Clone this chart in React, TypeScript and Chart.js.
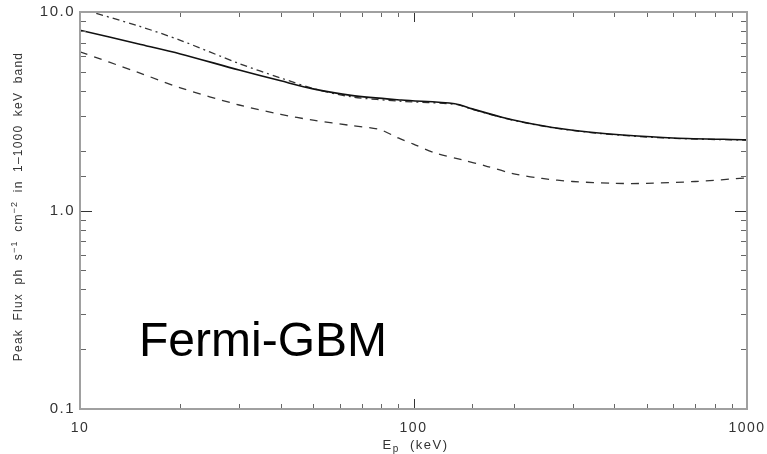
import React, { useEffect, useRef } from "react";
import { Chart, registerables } from "chart.js";

Chart.register(...registerables);

// Peak energy (keV) and peak flux (ph s^-1 cm^-2) for each curve
const solidEnergy = [10, 15, 20, 30, 40, 50, 65, 92, 133, 150, 184, 211, 261, 340, 424, 600, 1000];
const solidFlux = [8.1, 6.9, 6.15, 5.1, 4.5, 4.1, 3.8, 3.6, 3.45, 3.25, 2.95, 2.8, 2.62, 2.48, 2.4, 2.32, 2.27];

const dashDotEnergy = [10, 15, 20, 30, 40, 50, 65, 92, 133, 150, 184, 211, 261, 340, 424, 600, 1000];
const dashDotFlux = [10.4, 8.5, 7.2, 5.5, 4.65, 4.12, 3.74, 3.55, 3.43, 3.24, 2.94, 2.79, 2.61, 2.47, 2.39, 2.31, 2.26];

const dashedEnergy = [10, 15, 20, 30, 40, 50, 65, 79, 90, 100, 116, 140, 164, 200, 243, 300, 400, 500, 700, 1000];
const dashedFlux = [6.3, 4.95, 4.15, 3.4, 3.05, 2.85, 2.68, 2.56, 2.32, 2.16, 1.95, 1.8, 1.68, 1.53, 1.45, 1.4, 1.37, 1.37, 1.4, 1.46];

const xTickLabels = ["10", "100", "1000"];
const yTickLabels = ["0.1", "1.0", "10.0"];

const annotationText = "Fermi-GBM";
const xTitleMain = "E";
const xTitleSub = "p";
const xTitleRest = "  (keV)";
const yTitleParts: [string, boolean][] = [
  ["Peak Flux ph s", false],
  ["\u22121", true],
  [" cm", false],
  ["\u22122", true],
  [" in 1\u20131000 keV band", false],
];

const FONT = "'Liberation Sans', Arial, Helvetica, sans-serif";

const toPoints = (xs: number[], ys: number[]) => xs.map((x, i) => ({ x, y: ys[i] }));

const isPow10 = (v: number) => Math.abs(Math.log10(v) - Math.round(Math.log10(v))) < 1e-6;

const spacingPlugin = {
  id: "spacing",
  beforeDraw(chart: any) {
    chart.ctx.letterSpacing = "1.5px";
  },
};

const framePlugin = {
  id: "frame",
  afterDraw(chart: any) {
    const { ctx, chartArea: a, scales } = chart;
    const xs = scales.x;
    const ys = scales.y;
    ctx.save();
    ctx.letterSpacing = "0px";
    // inward tick marks on all four sides
    ctx.lineWidth = 1;
    xs.ticks.forEach((t: any) => {
      const px = Math.round(xs.getPixelForValue(t.value)) + 0.5;
      if (px < a.left - 1 || px > a.right + 1) return;
      const major = isPow10(t.value);
      const len = major ? 10 : 5;
      ctx.strokeStyle = major ? "#333" : "#666";
      ctx.beginPath();
      ctx.moveTo(px, a.bottom);
      ctx.lineTo(px, a.bottom - len);
      ctx.moveTo(px, a.top);
      ctx.lineTo(px, a.top + len);
      ctx.stroke();
    });
    ys.ticks.forEach((t: any) => {
      const py = Math.round(ys.getPixelForValue(t.value)) + 0.5;
      if (py < a.top - 1 || py > a.bottom + 1) return;
      const major = isPow10(t.value);
      const len = major ? 12 : 6;
      ctx.strokeStyle = major ? "#333" : "#666";
      ctx.beginPath();
      ctx.moveTo(a.left, py);
      ctx.lineTo(a.left + len, py);
      ctx.moveTo(a.right, py);
      ctx.lineTo(a.right - len, py);
      ctx.stroke();
    });
    // frame
    ctx.strokeStyle = "#a0a0a0";
    ctx.lineWidth = 2;
    ctx.strokeRect(a.left, a.top, a.right - a.left, a.bottom - a.top);

    // x title with subscript
    ctx.fillStyle = "#333";
    ctx.textBaseline = "alphabetic";
    ctx.textAlign = "left";
    ctx.letterSpacing = "1.5px";
    const big = `13px ${FONT}`;
    const small = `10px ${FONT}`;
    ctx.font = big;
    const wE = ctx.measureText(xTitleMain).width;
    const wR = ctx.measureText(xTitleRest).width;
    ctx.font = small;
    const wS = ctx.measureText(xTitleSub).width;
    const total = wE + wS + wR;
    let cx = (a.left + a.right) / 2 - total / 2 + 2;
    const base = a.bottom + 40;
    ctx.font = big;
    ctx.fillText(xTitleMain, cx, base);
    cx += wE;
    ctx.font = small;
    ctx.fillText(xTitleSub, cx, base + 3);
    cx += wS;
    ctx.font = big;
    ctx.fillText(xTitleRest, cx, base);

    // y title, rotated, with superscripts
    ctx.save();
    ctx.translate(22, (a.top + a.bottom) / 2 - 4);
    ctx.rotate(-Math.PI / 2);
    ctx.letterSpacing = "1.2px";
    ctx.wordSpacing = "4px";
    const yBig = `12px ${FONT}`;
    const ySmall = `9px ${FONT}`;
    let w = 0;
    yTitleParts.forEach(([s, sup]) => {
      ctx.font = sup ? ySmall : yBig;
      w += ctx.measureText(s).width;
    });
    let tx = -w / 2;
    yTitleParts.forEach(([s, sup]) => {
      ctx.font = sup ? ySmall : yBig;
      ctx.fillText(s, tx, sup ? -5 : 0);
      tx += ctx.measureText(s).width;
    });
    ctx.restore();

    // annotation
    ctx.letterSpacing = "0px";
    ctx.fillStyle = "#000";
    ctx.font = `48px ${FONT}`;
    ctx.fillText(annotationText, a.left + 59, 356);
    ctx.restore();
  },
};

export default function App() {
  const ref = useRef<HTMLCanvasElement>(null);
  useEffect(() => {
    if (!ref.current) return;
    const chart = new Chart(ref.current, {
      type: "line",
      data: {
        datasets: [
          {
            label: "solid",
            data: toPoints(solidEnergy, solidFlux),
            borderColor: "#111",
            borderWidth: 1.6,
            pointRadius: 0,
            tension: 0.3,
            fill: false,
          },
          {
            label: "dash-dot",
            data: toPoints(dashDotEnergy, dashDotFlux),
            borderColor: "#333",
            borderWidth: 1.3,
            borderDash: [7, 4, 2, 4],
            pointRadius: 0,
            tension: 0.3,
            fill: false,
          },
          {
            label: "dashed",
            data: toPoints(dashedEnergy, dashedFlux),
            borderColor: "#333",
            borderWidth: 1.3,
            borderDash: [8, 7],
            pointRadius: 0,
            tension: 0.3,
            fill: false,
          },
        ],
      },
      options: {
        animation: false,
        responsive: false,
        layout: { padding: { top: 12, right: 20, left: 0, bottom: 0 } },
        plugins: { legend: { display: false }, tooltip: { enabled: false } },
        scales: {
          x: {
            type: "logarithmic",
            min: 10,
            max: 1000,
            grid: { display: false, drawTicks: false },
            border: { display: false },
            ticks: {
              autoSkip: false,
              maxRotation: 0,
              padding: 11,
              color: "#333",
              font: { family: FONT, size: 14 },
              callback: (v: any) => {
                const s = String(Math.round(Number(v)));
                return isPow10(Number(v)) && xTickLabels.includes(s) ? s : "";
              },
            },
            afterFit: (s: any) => {
              s.height = 45;
              s.paddingLeft = 0;
              s.paddingRight = 0;
            },
          },
          y: {
            type: "logarithmic",
            min: 0.1,
            max: 10,
            grid: { display: false, drawTicks: false },
            border: { display: false },
            ticks: {
              autoSkip: false,
              padding: 5,
              color: "#333",
              font: { family: FONT, size: 15 },
              callback: (v: any) => {
                const s = Number(v).toFixed(1);
                return isPow10(Number(v)) && yTickLabels.includes(s) ? s : "";
              },
            },
            afterFit: (s: any) => {
              s.width = 80;
              s.paddingTop = 0;
              s.paddingBottom = 0;
            },
          },
        },
      },
      plugins: [spacingPlugin, framePlugin],
    });
    return () => chart.destroy();
  }, []);
  return (
    <div style={{ position: "absolute", left: 0, top: 0, width: 767, height: 454, background: "#fff" }}>
      <canvas ref={ref} width={767} height={454} style={{ display: "block" }} />
    </div>
  );
}
